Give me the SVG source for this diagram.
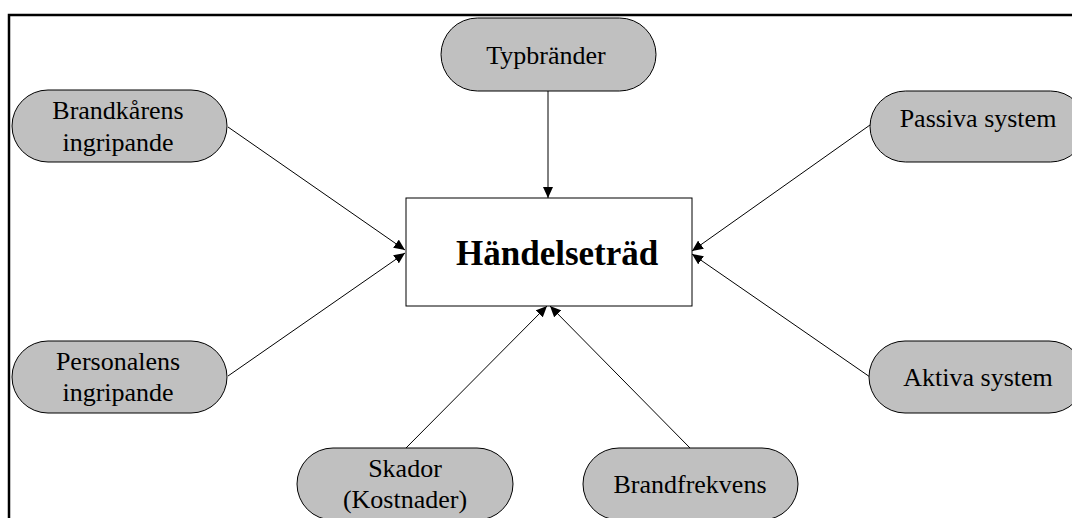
<svg xmlns="http://www.w3.org/2000/svg" width="1072" height="518" viewBox="0 0 1072 518">
<style>
.pill{fill:#c0c0c0;stroke:#000;stroke-width:1}
.lbl{font-family:"Liberation Serif","Times New Roman",serif;font-size:26px;fill:#000;text-anchor:middle}
.main{font-family:"Liberation Serif","Times New Roman",serif;font-size:35px;font-weight:bold;fill:#000}
.conn{stroke:#000;stroke-width:1;fill:none;marker-end:url(#ah)}
</style>
<defs>
<marker id="ah" markerUnits="userSpaceOnUse" markerWidth="12" markerHeight="10" refX="11" refY="5" orient="auto">
<path d="M0,0 L11,5 L0,10 Z" fill="#000"/>
</marker>
</defs>
<rect x="0" y="0" width="1072" height="518" fill="#fff"/>
<path d="M9,518 L9,15 L1072,15" fill="none" stroke="#000" stroke-width="2.5"/>
<g id="connectors">
<line class="conn" x1="548" y1="91" x2="548" y2="198"/>
<line class="conn" x1="228" y1="127" x2="405" y2="250"/>
<line class="conn" x1="228" y1="376" x2="405" y2="253"/>
<line class="conn" x1="870" y1="125" x2="692" y2="251"/>
<line class="conn" x1="870" y1="377" x2="692" y2="254"/>
<line class="conn" x1="406" y1="448" x2="547" y2="306"/>
<line class="conn" x1="690" y1="448" x2="550" y2="306"/>
</g>
<g id="handelsetrad">
<rect x="406" y="198" width="286" height="108" fill="#fff" stroke="#000" stroke-width="1"/>
<text class="main" x="456" y="265">Händelseträd</text>
</g>
<g id="typbrander">
<rect class="pill" x="441" y="18" width="215" height="73" rx="36.5"/>
<text class="lbl" x="546" y="64">Typbränder</text>
</g>
<g id="brandkarens">
<rect class="pill" x="12" y="90" width="215" height="72" rx="36"/>
<text class="lbl" x="118" y="119">Brandkårens</text>
<text class="lbl" x="118" y="151">ingripande</text>
</g>
<g id="personalens">
<rect class="pill" x="12" y="341" width="215" height="72" rx="36"/>
<text class="lbl" x="118" y="370">Personalens</text>
<text class="lbl" x="118" y="401">ingripande</text>
</g>
<g id="passiva">
<rect class="pill" x="870" y="91" width="216" height="71" rx="35.5"/>
<text class="lbl" x="978" y="127">Passiva system</text>
</g>
<g id="aktiva">
<rect class="pill" x="869" y="341" width="216" height="72" rx="36"/>
<text class="lbl" x="978" y="386">Aktiva system</text>
</g>
<g id="skador">
<rect class="pill" x="297" y="448" width="216" height="72" rx="36"/>
<text class="lbl" x="405" y="477">Skador</text>
<text class="lbl" x="405" y="508">(Kostnader)</text>
</g>
<g id="brandfrekvens">
<rect class="pill" x="583" y="448" width="215" height="72" rx="36"/>
<text class="lbl" x="690" y="493">Brandfrekvens</text>
</g>
</svg>
